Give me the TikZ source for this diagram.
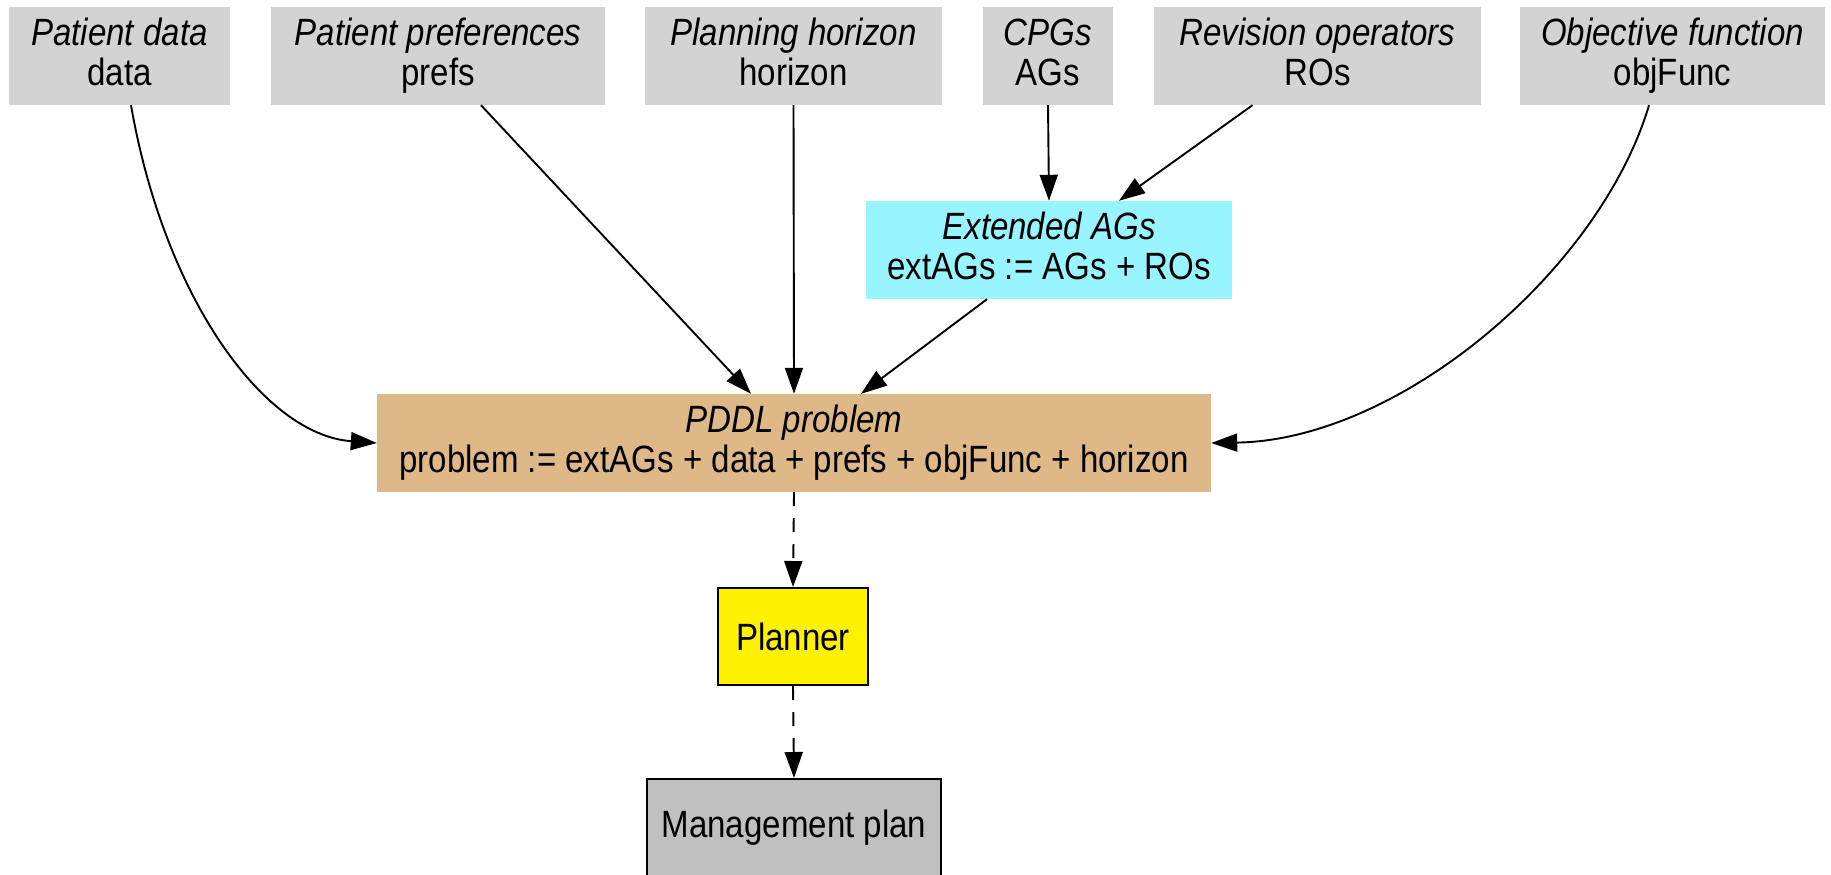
\documentclass[tikz,border=0pt]{standalone}
\usepackage{fontspec}
\setmainfont{Liberation Sans}[FakeStretch=0.87]
\usetikzlibrary{arrows.meta}
\definecolor{boxgray}{HTML}{D3D3D3}
\definecolor{extcyan}{HTML}{98F5FF}
\definecolor{pddlbrown}{HTML}{DEB887}
\definecolor{plangray}{HTML}{C0C0C0}
\newcommand{\lnstrut}{\rule[-9pt]{0pt}{37pt}}
\begin{document}
\begin{tikzpicture}[x=1pt,y=-1pt,
  every node/.style={font=\fontsize{38}{40}\selectfont, align=center, inner sep=0pt},
  inbox/.style={fill=boxgray, minimum height=98pt},
  arr/.style={line width=1.9pt, -{Triangle[length=26pt,width=18pt]}},
  darr/.style={arr, dash pattern=on 14pt off 12pt}
]
\useasboundingbox (0,0) rectangle (1831,875);
\fill[white] (0,0) rectangle (1831,875);
\node[inbox, minimum width=221pt] (data) at (119.5,56) {\lnstrut\textit{Patient data}\\\lnstrut data};
\node[inbox, minimum width=334pt] (prefs) at (438,56) {\lnstrut\textit{Patient preferences}\\\lnstrut prefs};
\node[inbox, minimum width=297pt] (horizon) at (793.5,56) {\lnstrut\textit{Planning horizon}\\\lnstrut horizon};
\node[inbox, minimum width=130pt] (ags) at (1048,56) {\lnstrut\textit{CPGs}\\\lnstrut AGs};
\node[inbox, minimum width=327pt] (ros) at (1317.5,56) {\lnstrut\textit{Revision operators}\\\lnstrut ROs};
\node[inbox, minimum width=305pt] (obj) at (1672.5,56) {\lnstrut\textit{Objective function}\\\lnstrut objFunc};
\node[fill=extcyan, minimum width=366pt, minimum height=98pt] (ext) at (1049,250) {\lnstrut\textit{Extended AGs}\\\lnstrut extAGs := AGs + ROs};
\node[fill=pddlbrown, minimum width=834pt, minimum height=98pt] (pddl) at (794,443) {\lnstrut\textit{PDDL problem}\\\lnstrut problem := extAGs + data + prefs + objFunc + horizon};
\node[fill=yellow, draw=black, line width=2pt, minimum width=150pt, minimum height=97pt] (planner) at (793,636.5) {Planner};
\node[fill=plangray, draw=black, line width=2pt, minimum width=294pt, minimum height=98pt] (plan) at (794,828) {Management plan};

\draw[arr] ([xshift=11.5pt]data.south) .. controls (165,300) and (265,435) .. (pddl.west);
\draw[arr] ([xshift=43pt]prefs.south) -- ([xshift=-43pt]pddl.north);
\draw[arr] (horizon.south) -- (pddl.north);
\draw[arr] (ags.south) -- (ext.north);
\draw[arr] ([xshift=-65pt]ros.south) -- ([xshift=70pt]ext.north);
\draw[arr] ([xshift=-62pt]ext.south) -- ([xshift=67pt]pddl.north);
\draw[arr] ([xshift=-23.5pt]obj.south) .. controls (1600,270) and (1400,440) .. (pddl.east);
\draw[darr] (pddl.south) -- (planner.north);
\draw[darr] (planner.south) -- (plan.north);
\end{tikzpicture}
\end{document}
